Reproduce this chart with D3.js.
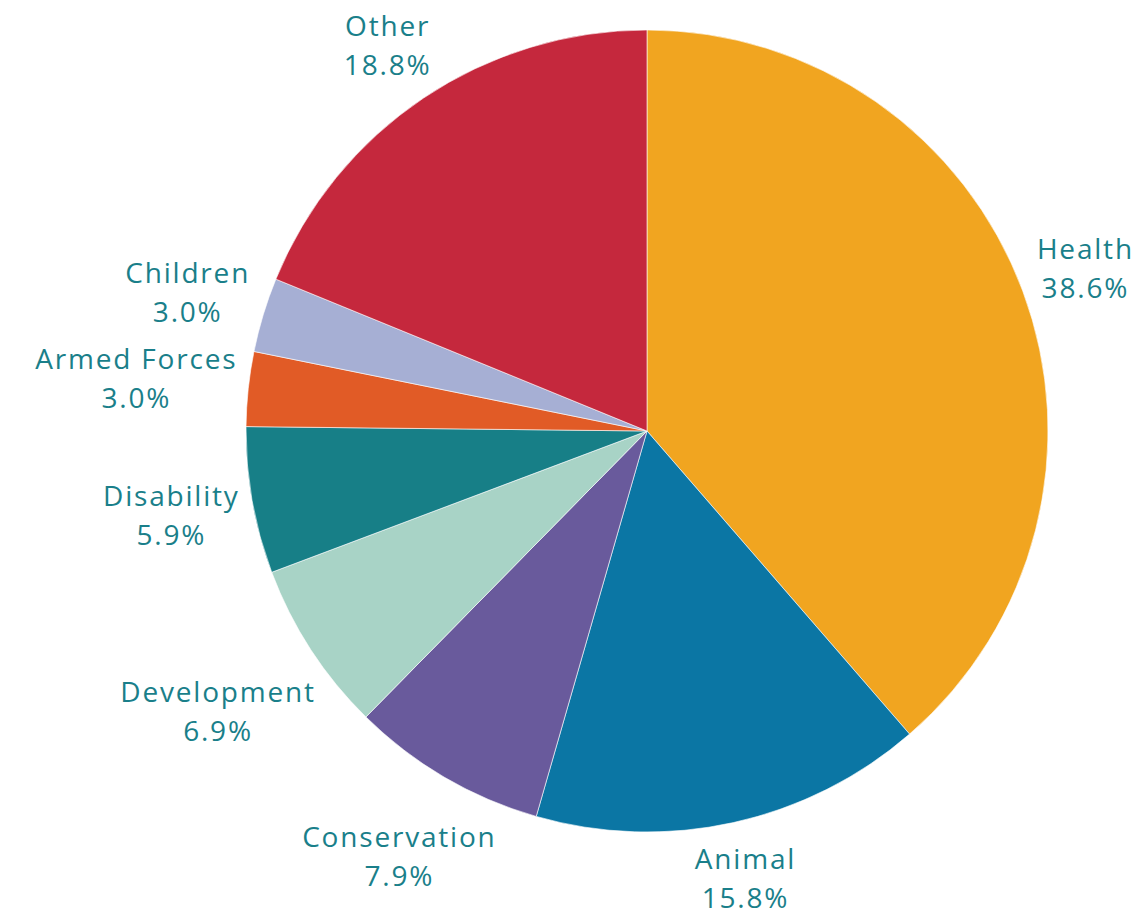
<!DOCTYPE html>
<html>
<head>
<meta charset="utf-8">
<script src="https://cdn.jsdelivr.net/npm/d3@7"></script>
<style>
  body { margin: 0; background: #fff; }
  svg { display: block; }
</style>
</head>
<body>
<script>
'use strict'
const categories = ["Health", "Animal", "Conservation", "Development", "Disability", "Armed Forces", "Children", "Other"];
const shares = [38.6, 15.8, 7.9, 6.9, 5.9, 3.0, 3.0, 18.8];
const colours = ["#F1A520", "#0B76A4", "#695A9C", "#A8D3C6", "#177F87", "#E15B26", "#A6AFD4", "#C5283D"];

const width = 1146, height = 916;
const cx = 647, cy = 431, radius = 401;

const svg = d3.select("body").append("svg")
    .attr("width", width)
    .attr("height", height);

const data = categories.map((c, i) => ({ name: c, value: shares[i], colour: colours[i] }));

const pie = d3.pie().sort(null).value(d => d.value);
const arc = d3.arc().innerRadius(0).outerRadius(radius);
const arcs = pie(data);

const g = svg.append("g").attr("transform", `translate(${cx},${cy})`);

g.selectAll("path")
    .data(arcs)
    .enter()
    .append("path")
    .attr("d", arc)
    .attr("fill", d => d.data.colour)
    .attr("stroke", "#fff")
    .attr("stroke-width", 0.6);

// labels: two lines, pushed out so the box clears the pie edge
const labels = g.selectAll("text.lbl")
    .data(arcs)
    .enter()
    .append("text")
    .attr("class", "lbl")
    .attr("text-anchor", "middle")
    .attr("font-family", "'Open Sans', 'Noto Sans', sans-serif")
    .attr("font-size", "28px")
    .attr("font-weight", 500)
    .attr("letter-spacing", "1.8px")
    .attr("fill", "#1A7F8A");

labels.append("tspan")
    .attr("x", 0)
    .attr("y", -4)
    .text(d => d.data.name);
labels.append("tspan")
    .attr("x", 0)
    .attr("y", 35)
    .text(d => d.data.value.toFixed(1) + "%");

labels.attr("transform", function(d) {
    const bb = this.getBBox();
    const a = (d.startAngle + d.endAngle) / 2;
    const s = Math.sin(a), c = Math.cos(a);
    const r = radius + 8 + (bb.width / 2) * Math.abs(s) + (bb.height / 2) * Math.abs(c);
    const mx = bb.x + bb.width / 2, my = bb.y + bb.height / 2;
    return `translate(${r * s - mx},${-r * c - my})`;
});
</script>
</body>
</html>
